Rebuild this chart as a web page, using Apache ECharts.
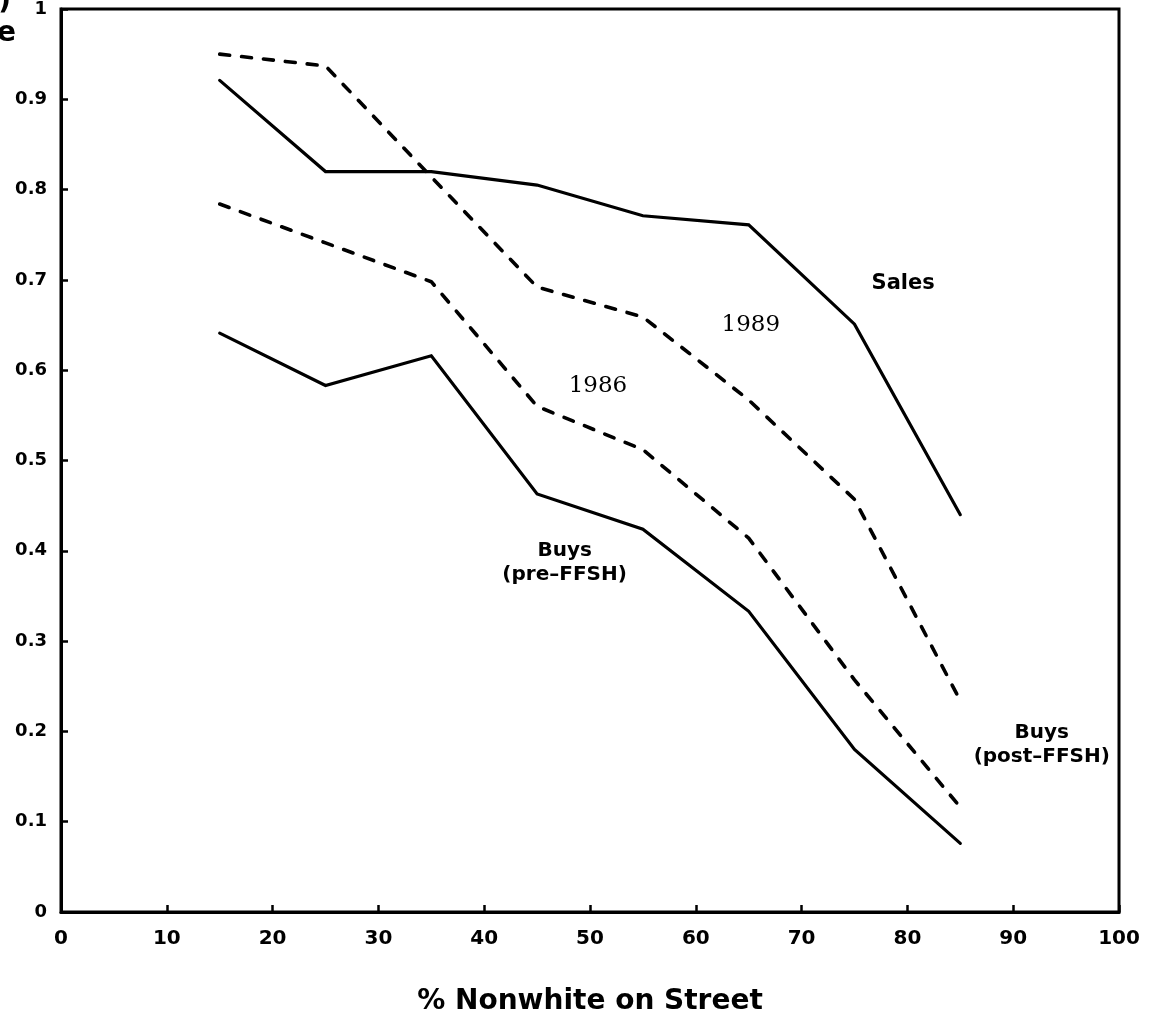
<!DOCTYPE html>
<html>
<head>
<meta charset="utf-8">
<script src="https://cdn.jsdelivr.net/npm/echarts@6/dist/echarts.min.js"></script>
<style>
html,body{margin:0;padding:0;background:#fff;}
#c{width:1153px;height:1024px;}
</style>
</head>
<body>
<div id="c"></div>
<script>
var xValues = [15, 25, 35, 45, 55, 65, 75, 85];
var sales = [0.921, 0.820, 0.820, 0.805, 0.771, 0.761, 0.651, 0.440];
var buysPost1989 = [0.950, 0.937, 0.814, 0.692, 0.659, 0.567, 0.457, 0.234];
var buysPost1986 = [0.784, 0.741, 0.698, 0.560, 0.512, 0.414, 0.257, 0.116];
var buysPre = [0.641, 0.583, 0.616, 0.463, 0.424, 0.333, 0.180, 0.076];
var xTitle = '% Nonwhite on Street';

function pairs(ys) { return xValues.map(function (x, i) { return [x, ys[i]]; }); }

var chart = echarts.init(document.getElementById('c'));
var boldFont = '"DejaVu Sans", sans-serif';
var solid = { color: '#000', width: 3.2, type: 'solid', cap: 'round', join: 'miter' };
var dashed = { color: '#000', width: 3.6, type: [10, 12], cap: 'round' };

function ann(x, y, text, font, weight, size, lh) {
  return {
    value: [x, y],
    label: {
      show: true, position: 'inside', formatter: text, color: '#000', opacity: 1,
      fontFamily: font, fontWeight: weight, fontSize: size, lineHeight: lh, align: 'center'
    }
  };
}

chart.setOption({
  animation: false,
  backgroundColor: '#fff',
  grid: { left: 61, right: 34, top: 6, bottom: 112, show: true, borderColor: '#000', borderWidth: 3, backgroundColor: 'transparent' },
  xAxis: {
    type: 'value', min: 0, max: 100, interval: 10,
    name: xTitle, nameLocation: 'middle', nameGap: 76,
    nameTextStyle: { color: '#000', fontFamily: boldFont, fontWeight: 'bold', fontSize: 28 },
    axisLine: { show: true, lineStyle: { color: '#000', width: 3 } },
    axisTick: { show: true, inside: true, length: 7, lineStyle: { color: '#000', width: 2.5 } },
    axisLabel: { color: '#000', fontFamily: boldFont, fontWeight: 'bold', fontSize: 20, margin: 17 },
    splitLine: { show: false }
  },
  yAxis: {
    type: 'value', min: 0, max: 1, interval: 0.1,
    axisLine: { show: true, lineStyle: { color: '#000', width: 3 } },
    axisTick: { show: true, inside: true, length: 7, lineStyle: { color: '#000', width: 2.5 } },
    axisLabel: { color: '#000', fontFamily: boldFont, fontWeight: 'bold', fontSize: 18, margin: 14 },
    splitLine: { show: false }
  },
  graphic: [
    { type: 'text', left: -20, top: -12, style: { text: 'y)', font: 'bold 28px "DejaVu Sans"', fill: '#000' } },
    { type: 'text', left: -3, top: 20, style: { text: 'e', font: 'bold 28px "DejaVu Sans"', fill: '#000' } }
  ],
  series: [
    { type: 'line', data: pairs(sales), symbol: 'none', lineStyle: solid, z: 3 },
    { type: 'line', data: pairs(buysPost1989), symbol: 'none', lineStyle: dashed, z: 3 },
    { type: 'line', data: pairs(buysPost1986), symbol: 'none', lineStyle: dashed, z: 3 },
    { type: 'line', data: pairs(buysPre), symbol: 'none', lineStyle: solid, z: 3 },
    {
      type: 'scatter', symbolSize: 0, silent: true, z: 5,
      itemStyle: { opacity: 1, color: '#000' },
      data: [
        ann(79.6, 0.696, 'Sales', boldFont, 'bold', 21, 24),
        ann(65.2, 0.650, '1989', '"DejaVu Serif", serif', 'normal', 23, 26),
        ann(50.75, 0.583, '1986', '"DejaVu Serif", serif', 'normal', 23, 26),
        ann(47.6, 0.387, 'Buys\n(pre\u2013FFSH)', boldFont, 'bold', 20, 24),
        ann(92.7, 0.185, 'Buys\n(post\u2013FFSH)', boldFont, 'bold', 20, 24)
      ]
    }
  ]
});
</script>
</body>
</html>
